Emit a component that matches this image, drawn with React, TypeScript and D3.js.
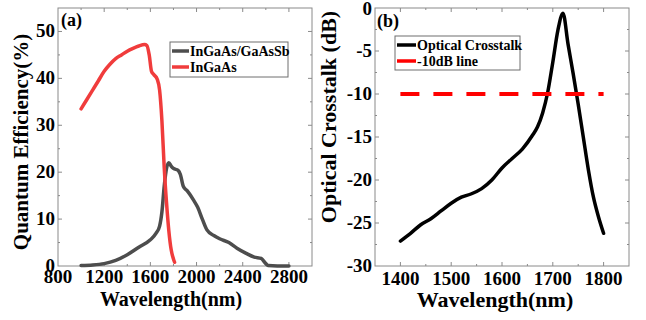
import React, { useEffect, useRef } from "react";
import * as d3 from "d3";

// panel (a): quantum efficiency
const qeTicksX = [800, 1200, 1600, 2000, 2400, 2800];
const qeTicksY = [0, 10, 20, 30, 40, 50];

const ingaasGaassb: [number, number][] = [
  [1000, 0.1], [1100, 0.2], [1200, 0.5], [1300, 1.2], [1400, 2.4], [1500, 4.0],
  [1600, 5.6], [1650, 7.0], [1680, 8.5], [1700, 11.5], [1720, 17.0], [1740, 20.8],
  [1760, 22.0], [1780, 21.3], [1800, 20.8], [1840, 20.4], [1860, 19.5], [1885, 17.0],
  [1920, 16.0], [1970, 14.2], [2010, 12.5], [2050, 10.0], [2090, 7.7], [2150, 6.5],
  [2200, 5.8], [2280, 5.0], [2350, 3.8], [2430, 2.7], [2500, 1.9], [2560, 1.6],
  [2600, 0.5], [2620, 0.1], [2700, 0.0], [2800, 0.0],
];

const ingaas: [number, number][] = [
  [1000, 33.5], [1050, 35.5], [1100, 37.5], [1150, 39.5], [1200, 41.5], [1250, 43.0],
  [1300, 44.2], [1350, 45.0], [1400, 45.8], [1450, 46.4], [1500, 46.9], [1550, 47.2],
  [1570, 47.0], [1590, 45.0], [1610, 41.5], [1630, 40.8], [1660, 39.8], [1680, 37.5],
  [1700, 31.0], [1720, 21.0], [1740, 13.5], [1760, 7.5], [1780, 3.5], [1800, 1.5],
  [1810, 0.8],
];

// panel (b): optical crosstalk
const ctTicksX = [1400, 1500, 1600, 1700, 1800];
const ctTicksY = [-30, -25, -20, -15, -10, -5, 0];

const crosstalk: [number, number][] = [
  [1400, -27.1], [1420, -26.2], [1440, -25.2], [1460, -24.5], [1480, -23.6],
  [1500, -22.7], [1520, -22.0], [1540, -21.6], [1560, -21.0], [1580, -20.0],
  [1600, -18.6], [1620, -17.5], [1640, -16.4], [1660, -14.8], [1670, -13.8],
  [1680, -12.2], [1690, -9.8], [1700, -6.3], [1710, -2.6], [1720, -0.6],
  [1730, -4.2], [1740, -7.6], [1750, -11.2], [1760, -15.0], [1770, -18.8],
  [1780, -22.0], [1790, -24.3], [1800, -26.2],
];
const lineRange = [1400, 1800];
const lineLevel = -10;

const FONT = "'Liberation Serif', 'Times New Roman', serif";

const App = () => {
  const svgRef = useRef<SVGSVGElement>(null);

  useEffect(() => {
    const svg = d3.select(svgRef.current);
    svg.selectAll("*").remove();

    const top = 8;
    const bottom = 266;

    const drawFrame = (g, x, y, majX, minX, majY, minY) => {
      const [x0, x1] = x.range();
      const frame = g.append("g").attr("stroke", "#8a8a8a").attr("stroke-width", 1);
      frame.append("rect")
        .attr("x", x0).attr("y", top).attr("width", x1 - x0).attr("height", bottom - top)
        .attr("fill", "none");
      const tick = (vals, len, horiz) => {
        vals.forEach((v) => {
          if (horiz) {
            const px = x(v);
            if (px <= x0 + 0.5 || px >= x1 - 0.5) return;
            frame.append("line").attr("x1", px).attr("x2", px).attr("y1", bottom).attr("y2", bottom - len);
            frame.append("line").attr("x1", px).attr("x2", px).attr("y1", top).attr("y2", top + len);
          } else {
            const py = y(v);
            if (py <= top + 0.5 || py >= bottom - 0.5) return;
            frame.append("line").attr("y1", py).attr("y2", py).attr("x1", x0).attr("x2", x0 + len);
            frame.append("line").attr("y1", py).attr("y2", py).attr("x1", x1).attr("x2", x1 - len);
          }
        });
      };
      tick(majX, 4, true);
      tick(minX, 2, true);
      tick(majY, 4, false);
      tick(minY, 2, false);
    };

    const label = (g, txt, x, y, size, anchor = "middle", rot = 0) => {
      const t = g.append("text")
        .attr("x", x).attr("y", y)
        .attr("text-anchor", anchor)
        .attr("font-family", FONT)
        .attr("font-weight", "bold")
        .attr("font-size", size)
        .attr("fill", "#000")
        .text(txt);
      if (rot) t.attr("transform", `rotate(${rot}, ${x}, ${y})`);
      return t;
    };

    // ---------- panel (a)
    const ga = svg.append("g");
    const xa = d3.scaleLinear().domain([800, 3000]).range([58, 312]);
    const ya = d3.scaleLinear().domain([0, 55]).range([bottom, top]);
    drawFrame(ga, xa, ya, qeTicksX, d3.range(1000, 3000, 400), qeTicksY, d3.range(5, 55, 10));

    qeTicksX.forEach((v) => label(ga, String(v), xa(v), 283, 19));
    qeTicksY.forEach((v) => label(ga, String(v), 55, ya(v) + 6, 19, "end"));

    const lineA = d3.line<[number, number]>().x((d) => xa(d[0])).y((d) => ya(d[1])).curve(d3.curveMonotoneX);
    ga.append("path").datum(ingaasGaassb).attr("d", lineA)
      .attr("fill", "none").attr("stroke", "#4d4d4d").attr("stroke-width", 3.5)
      .attr("stroke-linejoin", "round").attr("stroke-linecap", "round");
    ga.append("path").datum(ingaas).attr("d", lineA)
      .attr("fill", "none").attr("stroke", "#f03c3c").attr("stroke-width", 3.5)
      .attr("stroke-linejoin", "round").attr("stroke-linecap", "round");

    label(ga, "(a)", 61, 26, 18, "start");
    label(ga, "Wavelength(nm)", 171, 306, 20);
    label(ga, "Quantum Efficiency(%)", 28, 142, 21, "middle", -90);

    const legA = ga.append("g");
    legA.append("rect").attr("x", 170).attr("y", 42).attr("width", 118).attr("height", 35)
      .attr("fill", "#fff").attr("stroke", "#6e6e6e").attr("stroke-width", 1);
    [["InGaAs/GaAsSb", "#4d4d4d"], ["InGaAs", "#f03c3c"]].forEach(([name, c], i) => {
      const yy = 51 + i * 16;
      legA.append("line").attr("x1", 172).attr("x2", 189).attr("y1", yy).attr("y2", yy)
        .attr("stroke", c).attr("stroke-width", 3.5);
      label(legA, name, 190, yy + 5, 14, "start");
    });

    // ---------- panel (b)
    const gb = svg.append("g");
    const xb = d3.scaleLinear().domain([1350, 1850]).range([375, 629]);
    const yb = d3.scaleLinear().domain([-30, 0]).range([bottom, top]);
    drawFrame(gb, xb, yb, ctTicksX, d3.range(1350, 1850, 100), ctTicksY, d3.range(-27.5, 0, 5));

    ctTicksX.forEach((v) => label(gb, String(v), xb(v), 285, 19));
    ctTicksY.forEach((v) => label(gb, String(v), 372, Math.max(yb(v) + 6, 15), 19, "end"));

    const lineB = d3.line<[number, number]>().x((d) => xb(d[0])).y((d) => yb(d[1])).curve(d3.curveMonotoneX);
    gb.append("path").datum(crosstalk).attr("d", lineB)
      .attr("fill", "none").attr("stroke", "#000").attr("stroke-width", 3.5)
      .attr("stroke-linejoin", "round").attr("stroke-linecap", "round");
    gb.append("line")
      .attr("x1", xb(lineRange[0])).attr("x2", xb(lineRange[1]))
      .attr("y1", yb(lineLevel)).attr("y2", yb(lineLevel))
      .attr("stroke", "#ff0000").attr("stroke-width", 4)
      .attr("stroke-dasharray", "19 14");

    label(gb, "(b)", 377, 27, 18, "start");
    label(gb, "Wavelength(nm)", 495, 307, 22);
    label(gb, "Optical Crosstalk (dB)", 336, 117, 22, "middle", -90);

    const legB = gb.append("g");
    legB.append("rect").attr("x", 395).attr("y", 36).attr("width", 125).attr("height", 34)
      .attr("fill", "#fff").attr("stroke", "#6e6e6e").attr("stroke-width", 1);
    legB.append("line").attr("x1", 397).attr("x2", 416).attr("y1", 45).attr("y2", 45)
      .attr("stroke", "#000").attr("stroke-width", 3.5);
    label(legB, "Optical Crosstalk", 417, 50, 14, "start");
    legB.append("line").attr("x1", 397).attr("x2", 416).attr("y1", 61).attr("y2", 61)
      .attr("stroke", "#ff0000").attr("stroke-width", 3.5);
    label(legB, "-10dB line", 417, 66, 14, "start");
  }, []);

  return (
    <svg
      ref={svgRef}
      width={646}
      height={320}
      style={{ position: "absolute", left: 0, top: 0, background: "#fff" }}
    />
  );
};

export default App;
